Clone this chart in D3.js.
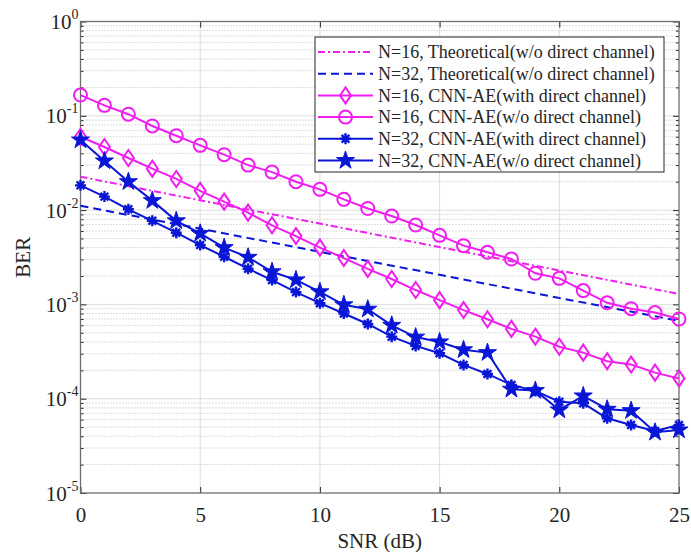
<!DOCTYPE html>
<html>
<head>
<meta charset="utf-8">
<script src="https://cdn.jsdelivr.net/npm/d3@7"></script>
<style>
  body { margin: 0; background: #fff; }
  text { font-family: "Liberation Serif", "DejaVu Serif", serif; fill: #262626; }
</style>
</head>
<body>
<svg id="chart" width="691" height="552"></svg>
<script>
// SNR points
var snr = d3.range(0, 26);
var snrTheory = [0, 5, 10, 15, 20, 25];

// BER values
var theo16 = [0.0226, 0.0127, 0.0072, 0.00405, 0.00229, 0.00129];
var theo32 = [0.0111, 0.00635, 0.00361, 0.00206, 0.00117, 0.00067];
var ae16With = [0.060, 0.0467, 0.0357, 0.0275, 0.0214, 0.0160, 0.0123, 0.0094, 0.0069, 0.0053,
                0.0040, 0.0031, 0.00238, 0.00186, 0.00142, 0.00111, 0.00087, 0.000695, 0.00055, 0.000455,
                0.000356, 0.000308, 0.00025, 0.00023, 0.000189, 0.000164];
var ae16Without = [0.166, 0.129, 0.104, 0.078, 0.0615, 0.0486, 0.0387, 0.030, 0.0253, 0.020,
                   0.0166, 0.013, 0.0104, 0.00865, 0.00695, 0.0054, 0.0042, 0.00357, 0.00303, 0.00214,
                   0.00189, 0.0014, 0.00104, 0.0009, 0.00082, 0.0007];
var ae32With = [0.0183, 0.0139, 0.0102, 0.0077, 0.00576, 0.00426, 0.0032, 0.00239, 0.00181, 0.00135,
                0.00103, 0.0008, 0.00062, 0.000455, 0.000363, 0.000303, 0.000228, 0.000183, 0.00014, 0.000121,
                0.000093, 0.0000893, 0.000062, 0.0000526, 0.0000455, 0.0000526];
var ae32Without = [0.0554, 0.0332, 0.020, 0.0126, 0.0077, 0.00567, 0.0040, 0.00316, 0.00222, 0.00182,
                   0.00136, 0.00099, 0.00089, 0.0006, 0.00045, 0.0004, 0.00033, 0.000308, 0.000126, 0.000122,
                   0.000076, 0.000107, 0.0000773, 0.0000747, 0.000044, 0.0000466];

var xTicks = [0, 5, 10, 15, 20, 25];
var yExps = [0, -1, -2, -3, -4, -5];

var MAGENTA = "#f01ef0",
    BLUE = "#0a16d6";

var SERIES = [
  {name: "N=16, Theoretical(w/o direct channel)", x: snrTheory, y: theo16, color: MAGENTA, dash: "7,3,2,3", marker: null},
  {name: "N=32, Theoretical(w/o direct channel)", x: snrTheory, y: theo32, color: BLUE, dash: "8,5", marker: null},
  {name: "N=16, CNN-AE(with direct channel)", x: snr, y: ae16With, color: MAGENTA, dash: null, marker: "diamond"},
  {name: "N=16, CNN-AE(w/o direct channel)", x: snr, y: ae16Without, color: MAGENTA, dash: null, marker: "circle"},
  {name: "N=32, CNN-AE(with direct channel)", x: snr, y: ae32With, color: BLUE, dash: null, marker: "asterisk"},
  {name: "N=32, CNN-AE(w/o direct channel)", x: snr, y: ae32Without, color: BLUE, dash: null, marker: "star"}
];

var svg = d3.select("#chart"),
    margin = {top: 21.5, right: 12, bottom: 59, left: 80.5},
    width = +svg.attr("width"),
    height = +svg.attr("height"),
    w = width - margin.left - margin.right,
    h = height - margin.top - margin.bottom;

var x = d3.scaleLinear().domain([0, 25]).range([0, w]);
var y = d3.scaleLog().domain([1e-5, 1]).range([h, 0]);

var g = svg.append("g")
    .attr("transform", "translate(" + margin.left + "," + margin.top + ")");

// minor y grid (dotted)
var minorY = [];
for (var e = -5; e < 0; e++) {
  for (var m = 2; m <= 9; m++) minorY.push(m * Math.pow(10, e));
}
g.append("g").selectAll("line")
    .data(minorY)
    .enter().append("line")
    .attr("x1", 0).attr("x2", w)
    .attr("y1", d => y(d)).attr("y2", d => y(d))
    .attr("stroke", "#a8a8a8")
    .attr("stroke-width", 0.8)
    .attr("stroke-dasharray", "1,2");

// major grid
g.append("g").selectAll("line")
    .data(yExps.slice(1, 5))
    .enter().append("line")
    .attr("x1", 0).attr("x2", w)
    .attr("y1", d => y(Math.pow(10, d))).attr("y2", d => y(Math.pow(10, d)))
    .attr("stroke", "#dcdcdc");
g.append("g").selectAll("line")
    .data(xTicks.slice(1, 5))
    .enter().append("line")
    .attr("y1", 0).attr("y2", h)
    .attr("x1", d => x(d)).attr("x2", d => x(d))
    .attr("stroke", "#dcdcdc");

// axes: ticks pointing inward, like matlab
function styleAxis(sel) {
  sel.select(".domain").remove();
  sel.selectAll(".tick line").attr("stroke", "#262626");
}

g.append("g")
    .attr("transform", "translate(0," + h + ")")
    .call(d3.axisBottom(x).tickValues(xTicks).tickSize(-6).tickPadding(14).tickFormat(d3.format("d")))
    .call(styleAxis)
    .selectAll("text").attr("font-size", 21).attr("font-family", "Liberation Serif").attr("fill", "#262626");

g.append("g")
    .call(d3.axisTop(x).tickValues(xTicks).tickSize(-6).tickFormat(""))
    .call(styleAxis);

g.append("g")
    .call(d3.axisLeft(y).tickValues(minorY).tickSize(-3).tickFormat(""))
    .call(styleAxis);
g.append("g")
    .attr("transform", "translate(" + w + ",0)")
    .call(d3.axisRight(y).tickValues(minorY).tickSize(-3).tickFormat(""))
    .call(styleAxis);
g.append("g")
    .attr("transform", "translate(" + w + ",0)")
    .call(d3.axisRight(y).tickValues(yExps.map(d => Math.pow(10, d))).tickSize(-6).tickFormat(""))
    .call(styleAxis);

var yAxis = g.append("g")
    .call(d3.axisLeft(y).tickValues(yExps.map(d => Math.pow(10, d))).tickSize(-6).tickFormat(""))
    .call(styleAxis);

yAxis.selectAll(".tick").each(function(d) {
  var t = d3.select(this).append("text")
      .attr("x", -2)
      .attr("y", 7)
      .attr("text-anchor", "end")
      .attr("font-size", 21);
  t.append("tspan").text("10");
  t.append("tspan").attr("dy", -10).attr("font-size", 14).text(Math.round(Math.log10(d)));
});

// box
g.append("rect")
    .attr("width", w).attr("height", h)
    .attr("fill", "none")
    .attr("stroke", "#6e6e6e")
    .attr("stroke-width", 1.3);

// axis labels
svg.append("text")
    .attr("x", margin.left + w / 2)
    .attr("y", 548)
    .attr("text-anchor", "middle")
    .attr("font-size", 21)
    .text("SNR (dB)");

svg.append("text")
    .attr("transform", "translate(30," + (margin.top + h / 2) + ") rotate(-90)")
    .attr("text-anchor", "middle")
    .attr("font-size", 21)
    .text("BER");

// markers
function starPath(R) {
  var pts = [];
  for (var i = 0; i < 10; i++) {
    var r = i % 2 === 0 ? R : R * 0.382;
    var a = -Math.PI / 2 + i * Math.PI / 5;
    pts.push([r * Math.cos(a), r * Math.sin(a)]);
  }
  return "M" + pts.map(p => p[0].toFixed(2) + "," + p[1].toFixed(2)).join("L") + "Z";
}

function drawMarker(sel, kind, color) {
  if (kind === "circle") {
    sel.append("circle").attr("r", 6.5)
      .attr("fill", "none").attr("stroke", color).attr("stroke-width", 2);
  } else if (kind === "diamond") {
    sel.append("path").attr("d", "M0,-8L5.5,0L0,8L-5.5,0Z")
      .attr("fill", "none").attr("stroke", color).attr("stroke-width", 2);
  } else if (kind === "asterisk") {
    var r = 5.5, q = r * 0.707;
    sel.append("path")
      .attr("d", "M" + -r + ",0L" + r + ",0M0," + -r + "L0," + r +
                 "M" + -q + "," + -q + "L" + q + "," + q + "M" + -q + "," + q + "L" + q + "," + -q)
      .attr("stroke", color).attr("stroke-width", 2.4);
  } else if (kind === "star") {
    sel.append("path").attr("d", starPath(9.5))
      .attr("fill", color).attr("stroke", color).attr("stroke-width", 1);
  }
}

var line = d3.line()
    .x(d => x(d[0]))
    .y(d => y(d[1]));

var plot = g.append("g");

SERIES.forEach(function(s) {
  var pts = s.x.map((v, i) => [v, s.y[i]]);
  plot.append("path")
      .datum(pts)
      .attr("d", line)
      .attr("fill", "none")
      .attr("stroke", s.color)
      .attr("stroke-width", 2)
      .attr("stroke-dasharray", s.dash);
  if (s.marker) {
    plot.append("g").selectAll("g")
        .data(pts)
        .enter().append("g")
        .attr("transform", d => "translate(" + x(d[0]) + "," + y(d[1]) + ")")
        .each(function() { drawMarker(d3.select(this), s.marker, s.color); });
  }
});

// legend
var legend = svg.append("g");
legend.append("rect")
    .attr("x", 315).attr("y", 37)
    .attr("width", 349).attr("height", 135)
    .attr("fill", "#fff")
    .attr("stroke", "#262626")
    .attr("stroke-width", 1);

SERIES.forEach(function(s, i) {
  var ly = 52 + 21.7 * i;
  legend.append("line")
      .attr("x1", 318).attr("x2", 373)
      .attr("y1", ly).attr("y2", ly)
      .attr("stroke", s.color)
      .attr("stroke-width", 2)
      .attr("stroke-dasharray", s.dash);
  if (s.marker) {
    drawMarker(legend.append("g").attr("transform", "translate(345.5," + ly + ")"), s.marker, s.color);
  }
  legend.append("text")
      .attr("x", 378)
      .attr("y", ly)
      .attr("dy", "0.35em")
      .attr("font-size", 18)
      .text(s.name);
});
</script>
</body>
</html>
